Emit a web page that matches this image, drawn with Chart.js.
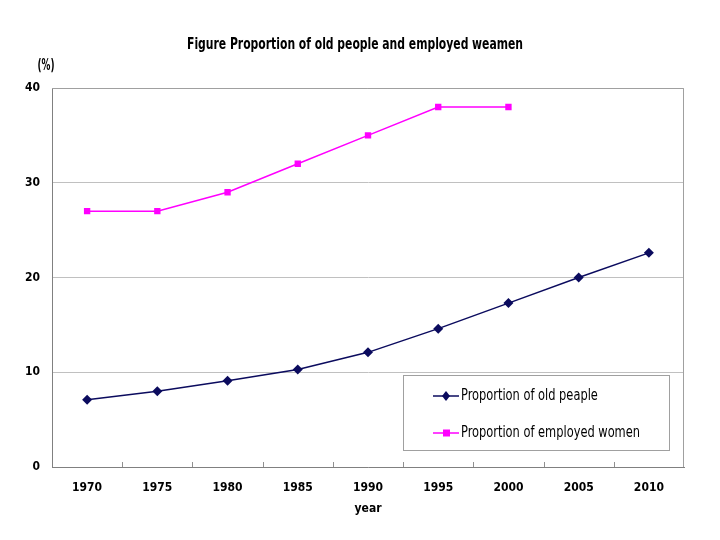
<!DOCTYPE html>
<html>
<head>
<meta charset="utf-8">
<script src="https://cdn.jsdelivr.net/npm/chart.js@4"></script>
<style>
  html, body { margin: 0; padding: 0; background: #fff; }
  #wrap { width: 720px; height: 540px; position: relative; }
</style>
</head>
<body>
<div id="wrap"><canvas id="chart"></canvas></div>
<script>
const years = ['1970', '1975', '1980', '1985', '1990', '1995', '2000', '2005', '2010'];
const oldPeople = [7.1, 8.0, 9.1, 10.3, 12.1, 14.6, 17.3, 20.0, 22.6];
const employedWomen = [27, 27, 29, 32, 35, 38, 38, null, null];
const yTicks = [0, 10, 20, 30, 40];
const seriesNames = ['Proportion of old peaple', 'Proportion of employed women'];
const titleText = 'Figure Proportion of old people and employed weamen';

const FONT = "'DejaVu Sans Condensed', 'Liberation Sans', sans-serif";

// text squeezed sideways to look like the narrow font of the original
function narrowText(ctx, text, x, y, width, align) {
  const w = ctx.measureText(text).width;
  const k = width / w;
  ctx.save();
  ctx.translate(x, y);
  ctx.scale(k, 1);
  ctx.textAlign = align;
  ctx.fillText(text, 0, 0);
  ctx.restore();
  return k;
}

const decor = {
  id: 'decor',
  afterDraw(chart) {
    const ctx = chart.ctx;
    const area = chart.chartArea;
    const x = chart.scales.x;
    ctx.save();
    ctx.fillStyle = '#000';
    ctx.textBaseline = 'middle';
    ctx.font = 'bold 16px ' + FONT;
    narrowText(ctx, titleText, 355, 45, 336, 'center');
    ctx.font = 'bold 15px ' + FONT;
    narrowText(ctx, '(%)', 46, 66, 17, 'center');

    // small tick marks between categories, pointing up into the plot
    ctx.strokeStyle = '#909090';
    ctx.lineWidth = 1;
    for (let i = 1; i < years.length; i++) {
      const px = Math.round((x.getPixelForValue(i - 1) + x.getPixelForValue(i)) / 2) + 0.5;
      ctx.beginPath();
      ctx.moveTo(px, area.bottom);
      ctx.lineTo(px, area.bottom - 5);
      ctx.stroke();
    }

    // legend box
    const lx = 403, ly = 375, lw = 266, lh = 75;
    ctx.fillStyle = '#fff';
    ctx.fillRect(lx, ly, lw, lh);
    ctx.strokeStyle = '#a0a0a0';
    ctx.strokeRect(lx + 0.5, ly + 0.5, lw, lh);
    ctx.font = '16px ' + FONT;
    const k = 179 / ctx.measureText(seriesNames[1]).width;
    chart.data.datasets.forEach((ds, i) => {
      const cy = ly + 21 + i * 37;
      ctx.strokeStyle = ds.borderColor;
      ctx.lineWidth = 1.5;
      ctx.beginPath();
      ctx.moveTo(lx + 30, cy);
      ctx.lineTo(lx + 56, cy);
      ctx.stroke();
      ctx.fillStyle = ds.backgroundColor;
      ctx.beginPath();
      if (ds.pointStyle === 'rectRot') {
        ctx.moveTo(lx + 43, cy - 5);
        ctx.lineTo(lx + 47, cy);
        ctx.lineTo(lx + 43, cy + 5);
        ctx.lineTo(lx + 39, cy);
        ctx.closePath();
      } else {
        ctx.rect(lx + 40, cy - 3.5, 7, 7);
      }
      ctx.fill();
      ctx.fillStyle = '#000';
      narrowText(ctx, ds.label, lx + 58, cy, ctx.measureText(ds.label).width * k, 'left');
    });
    ctx.restore();
  }
};

new Chart(document.getElementById('chart'), {
  type: 'line',
  data: {
    labels: years,
    datasets: [
      {
        label: seriesNames[0],
        data: oldPeople,
        borderColor: '#0b0b5e',
        backgroundColor: '#0b0b5e',
        borderWidth: 1.5,
        pointStyle: 'rectRot',
        pointRadius: 5,
        pointBorderWidth: 0,
        tension: 0
      },
      {
        label: seriesNames[1],
        data: employedWomen,
        borderColor: '#ff00ff',
        backgroundColor: '#ff00ff',
        borderWidth: 1.5,
        pointStyle: 'rect',
        pointRadius: 4.5,
        pointBorderWidth: 0,
        tension: 0
      }
    ]
  },
  options: {
    responsive: true,
    maintainAspectRatio: false,
    animation: false,
    devicePixelRatio: 1,
    layout: { padding: { top: 88, right: 36, bottom: 20, left: 0 } },
    plugins: {
      legend: { display: false },
      title: { display: false },
      tooltip: { enabled: false }
    },
    scales: {
      x: {
        offset: true,
        grid: { display: false, drawTicks: false },
        border: { display: true, color: '#808080', width: 1 },
        ticks: {
          color: '#000',
          padding: 14,
          maxRotation: 0,
          font: { family: FONT, size: 12, weight: 'bold' }
        },
        title: {
          display: true,
          text: 'year',
          color: '#000',
          padding: { top: 6 },
          font: { family: FONT, size: 12, weight: 'bold' }
        },
        afterFit(s) { s.height = 53; }
      },
      y: {
        min: 0,
        max: 40,
        afterBuildTicks(s) { s.ticks = yTicks.map(v => ({ value: v })); },
        grid: { color: '#c0c0c0', drawTicks: false, lineWidth: 1 },
        border: { display: true, color: '#808080', width: 1 },
        ticks: {
          color: '#000',
          padding: 12,
          font: { family: FONT, size: 12, weight: 'bold' }
        },
        afterFit(s) { s.width = 52; }
      }
    }
  },
  plugins: [decor, {
    id: 'frame',
    beforeDatasetsDraw(chart) {
      const a = chart.chartArea, ctx = chart.ctx;
      ctx.save();
      ctx.strokeStyle = '#a0a0a0';
      ctx.lineWidth = 1;
      ctx.beginPath();
      ctx.moveTo(a.left, a.top + 0.5);
      ctx.lineTo(a.right - 0.5, a.top + 0.5);
      ctx.lineTo(a.right - 0.5, a.bottom);
      ctx.stroke();
      ctx.restore();
    }
  }]
});
</script>
</body>
</html>
